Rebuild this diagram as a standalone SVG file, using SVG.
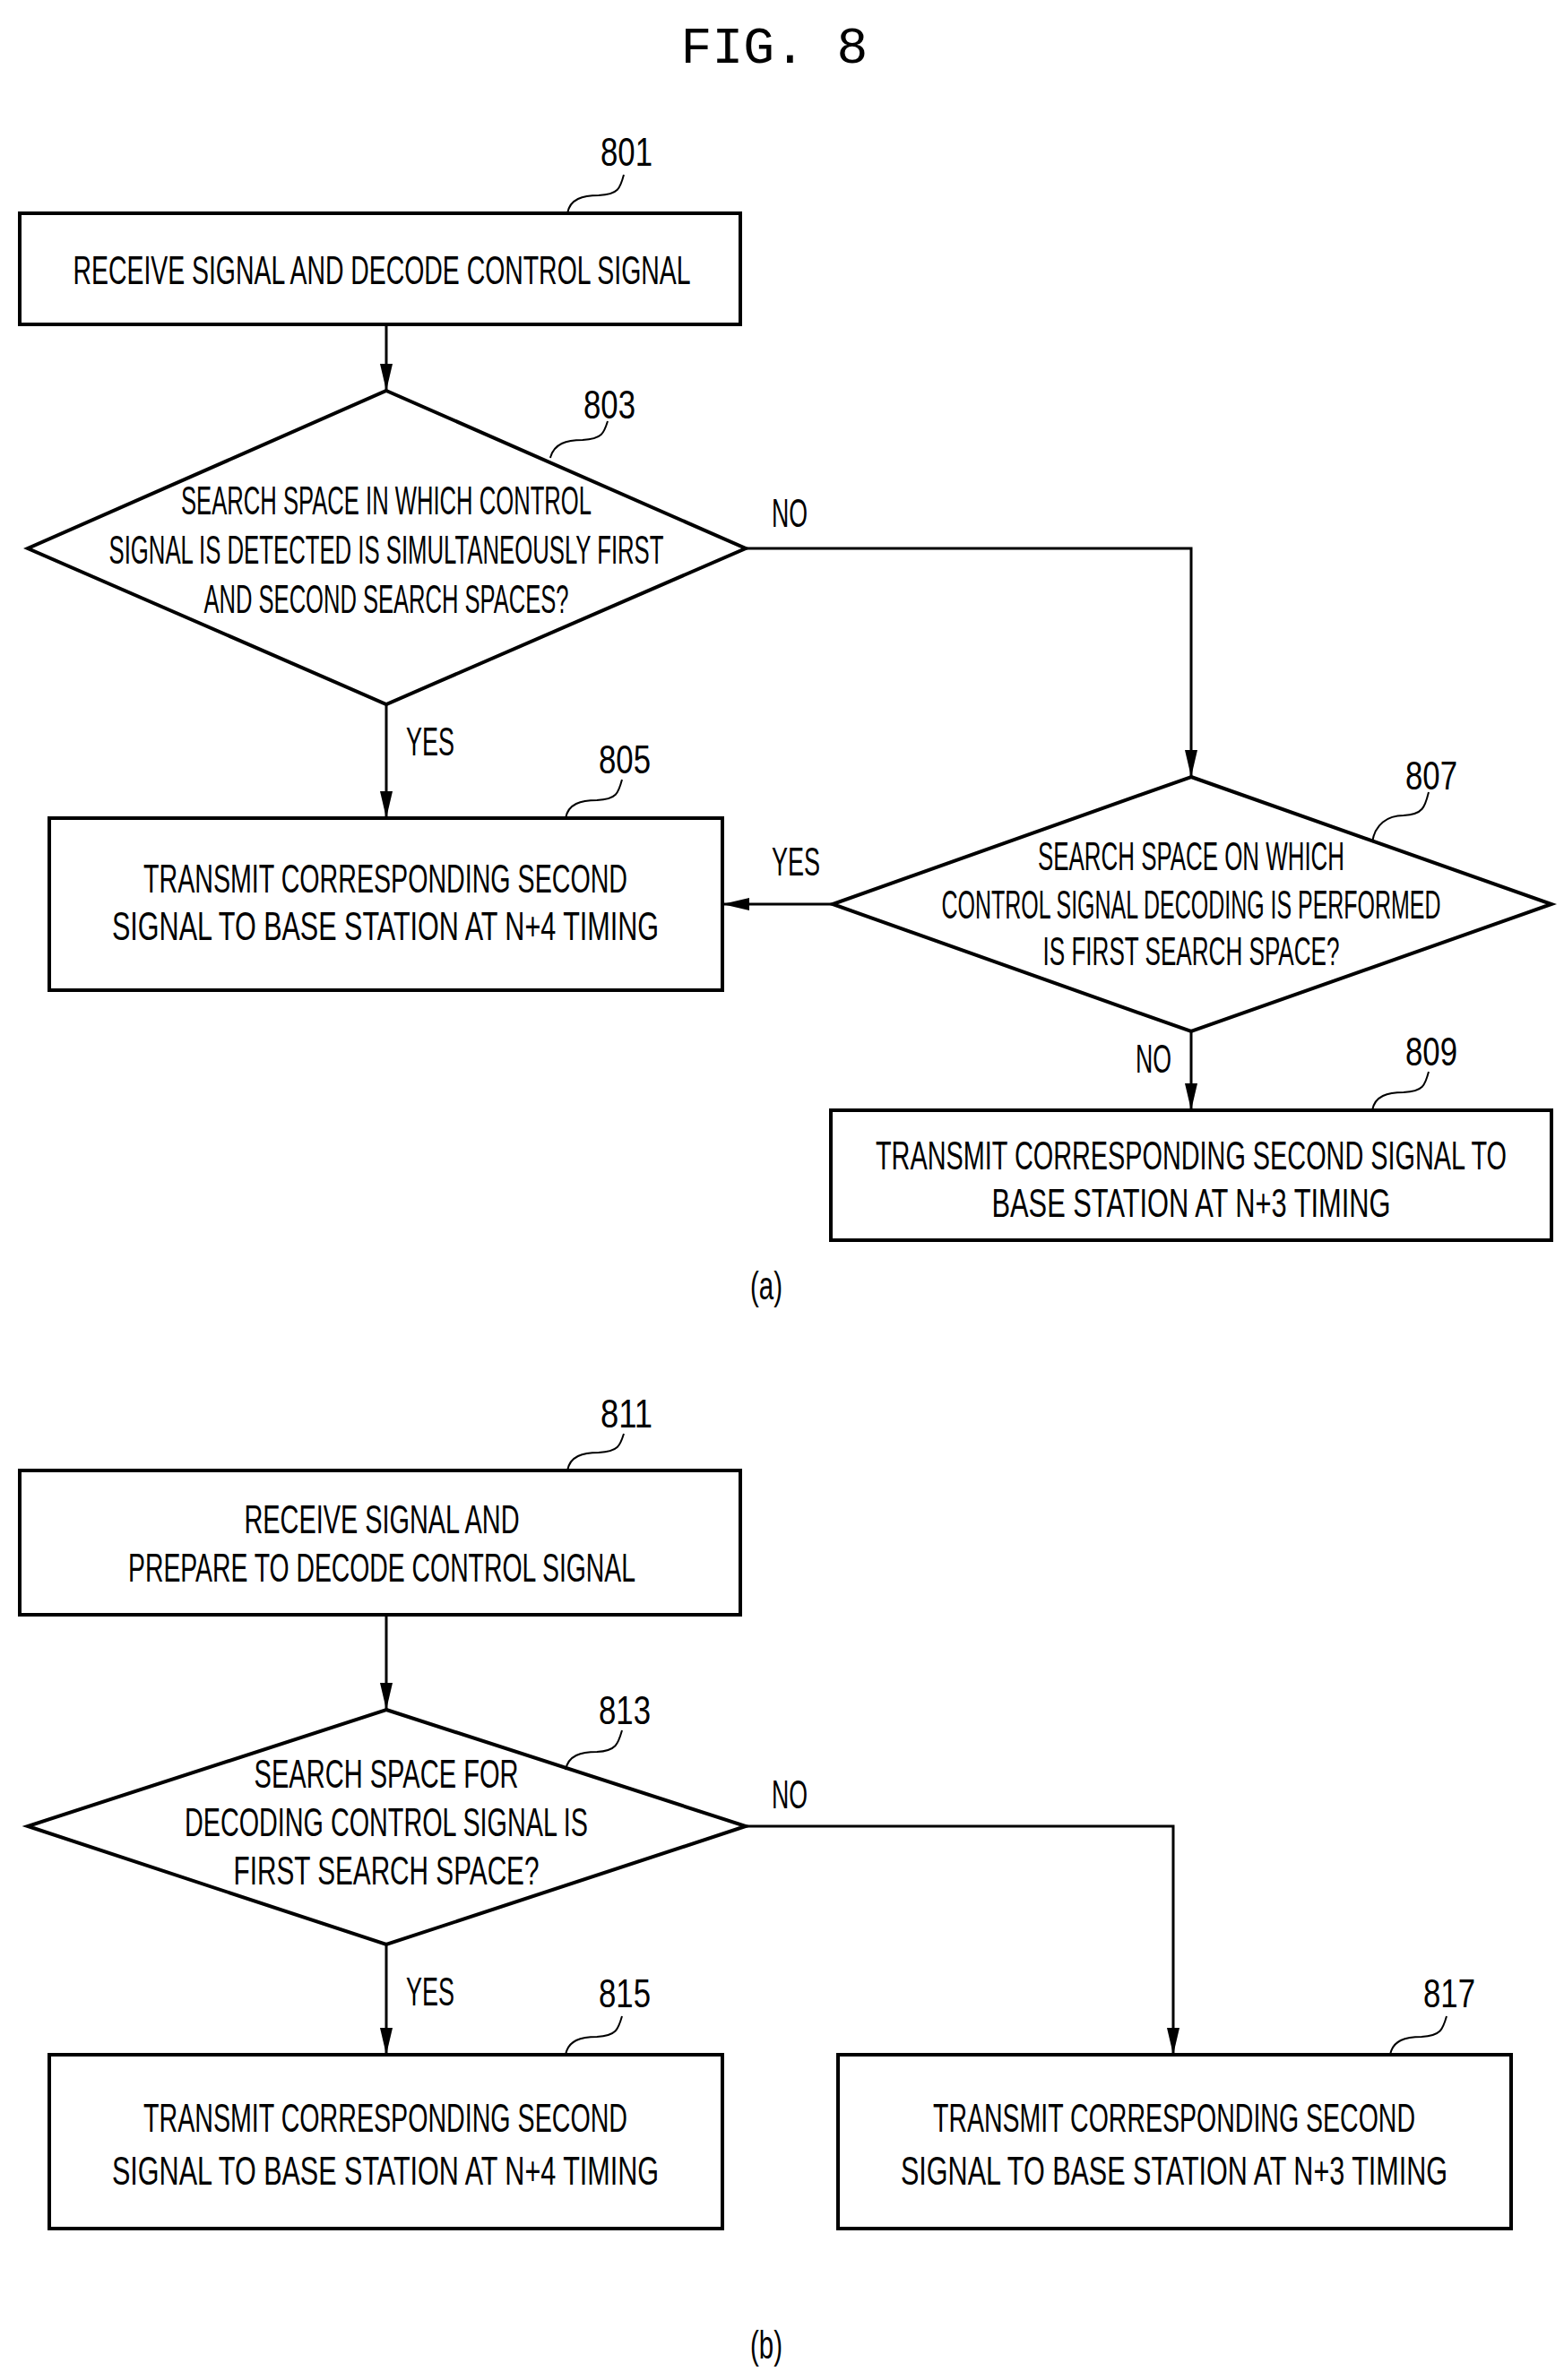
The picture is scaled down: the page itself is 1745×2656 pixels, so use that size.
<svg xmlns="http://www.w3.org/2000/svg" width="1745" height="2656" viewBox="0 0 1745 2656">
<style>
.b{fill:#fff;stroke:#000;stroke-width:4}
.t{font-family:"Liberation Sans",Arial,sans-serif;font-size:44px;text-anchor:middle;fill:#000}
.l{font-family:"Liberation Sans",Arial,sans-serif;font-size:44px;text-anchor:middle;fill:#000}
.c{fill:none;stroke:#000;stroke-width:3}
.s{fill:none;stroke:#000;stroke-width:2}
</style>
<defs><marker id="a" viewBox="0 0 10 30" refX="10" refY="15" markerWidth="10" markerHeight="30" markerUnits="userSpaceOnUse" orient="auto"><path d="M0,0 L30,15 L0,30 Z" transform="scale(0.333,1)"/></marker>
<marker id="h" viewBox="0 0 30 14" refX="30" refY="7" markerWidth="30" markerHeight="14" markerUnits="userSpaceOnUse" orient="auto"><path d="M0,0 L30,7 L0,14 Z"/></marker></defs>
<rect width="1745" height="2656" fill="#fff"/>
<text x="864" y="70" style="font-family:'Liberation Mono',monospace;font-size:58px;text-anchor:middle">FIG. 8</text>
<g id="connectors">
<path class="c" d="M431,362 V436" marker-end="url(#h)"/>
<path class="c" d="M832,612 H1329 V867" marker-end="url(#h)"/>
<path class="c" d="M431,786 V913" marker-end="url(#h)"/>
<path class="c" d="M929,1009 H806" marker-end="url(#h)"/>
<path class="c" d="M1329,1151 V1239" marker-end="url(#h)"/>
<path class="c" d="M431,1802 V1908" marker-end="url(#h)"/>
<path class="c" d="M832,2038 H1309 V2293" marker-end="url(#h)"/>
<path class="c" d="M431,2170 V2293" marker-end="url(#h)"/>
<text class="l" x="881" y="588" textLength="40" lengthAdjust="spacingAndGlyphs">NO</text>
<text class="l" x="480" y="843" textLength="54" lengthAdjust="spacingAndGlyphs">YES</text>
<text class="l" x="888" y="977" textLength="54" lengthAdjust="spacingAndGlyphs">YES</text>
<text class="l" x="1287" y="1197" textLength="40" lengthAdjust="spacingAndGlyphs">NO</text>
<text class="l" x="881" y="2018" textLength="40" lengthAdjust="spacingAndGlyphs">NO</text>
<text class="l" x="480" y="2238" textLength="54" lengthAdjust="spacingAndGlyphs">YES</text>
</g>
<g id="n801"><rect class="b" x="22" y="238" width="804" height="124"/>
<text class="t" x="426" y="317" textLength="689" lengthAdjust="spacingAndGlyphs">RECEIVE SIGNAL AND DECODE CONTROL SIGNAL</text>
<text class="l" x="699" y="185" textLength="58" lengthAdjust="spacingAndGlyphs">801</text><path class="s" d="M633,238 C636,222 650,218 668,218 C690,217 692,210 696,195"/></g>
<g id="n803"><polygon class="b" points="431,436 832,612 431,786 31,612"/>
<text class="t" x="431" y="574" textLength="458" lengthAdjust="spacingAndGlyphs">SEARCH SPACE IN WHICH CONTROL</text>
<text class="t" x="431" y="629" textLength="619" lengthAdjust="spacingAndGlyphs">SIGNAL IS DETECTED IS SIMULTANEOUSLY FIRST</text>
<text class="t" x="431" y="684" textLength="407" lengthAdjust="spacingAndGlyphs">AND SECOND SEARCH SPACES?</text>
<text class="l" x="680" y="467" textLength="58" lengthAdjust="spacingAndGlyphs">803</text><path class="s" d="M614,511 C618,495 632,491 650,491 C672,490 674,483 678,470"/></g>
<g id="n805"><rect class="b" x="55" y="913" width="751" height="192"/>
<text class="t" x="430" y="996" textLength="540" lengthAdjust="spacingAndGlyphs">TRANSMIT CORRESPONDING SECOND</text>
<text class="t" x="430" y="1049" textLength="610" lengthAdjust="spacingAndGlyphs">SIGNAL TO BASE STATION AT N+4 TIMING</text>
<text class="l" x="697" y="863" textLength="58" lengthAdjust="spacingAndGlyphs">805</text><path class="s" d="M631,913 C634,897 648,893 666,893 C688,892 690,885 694,870"/></g>
<g id="n807"><polygon class="b" points="1329,867 1731,1009 1329,1151 929,1009"/>
<text class="t" x="1329" y="971" textLength="342" lengthAdjust="spacingAndGlyphs">SEARCH SPACE ON WHICH</text>
<text class="t" x="1329" y="1025" textLength="557" lengthAdjust="spacingAndGlyphs">CONTROL SIGNAL DECODING IS PERFORMED</text>
<text class="t" x="1329" y="1077" textLength="331" lengthAdjust="spacingAndGlyphs">IS FIRST SEARCH SPACE?</text>
<text class="l" x="1597" y="881" textLength="58" lengthAdjust="spacingAndGlyphs">807</text><path class="s" d="M1531,940 C1534,920 1548,910 1566,910 C1588,909 1590,900 1594,884"/></g>
<g id="n809"><rect class="b" x="927" y="1239" width="804" height="145"/>
<text class="t" x="1329" y="1305" textLength="704" lengthAdjust="spacingAndGlyphs">TRANSMIT CORRESPONDING SECOND SIGNAL TO</text>
<text class="t" x="1329" y="1358" textLength="445" lengthAdjust="spacingAndGlyphs">BASE STATION AT N+3 TIMING</text>
<text class="l" x="1597" y="1189" textLength="58" lengthAdjust="spacingAndGlyphs">809</text><path class="s" d="M1531,1239 C1534,1223 1548,1219 1566,1219 C1588,1218 1590,1211 1594,1196"/></g>
<text class="l" x="855" y="1450" textLength="36" lengthAdjust="spacingAndGlyphs">(a)</text>
<g id="n811"><rect class="b" x="22" y="1641" width="804" height="161"/>
<text class="t" x="426" y="1711" textLength="307" lengthAdjust="spacingAndGlyphs">RECEIVE SIGNAL AND</text>
<text class="t" x="426" y="1765" textLength="566" lengthAdjust="spacingAndGlyphs">PREPARE TO DECODE CONTROL SIGNAL</text>
<text class="l" x="699" y="1593" textLength="58" lengthAdjust="spacingAndGlyphs">811</text><path class="s" d="M633,1641 C636,1625 650,1621 668,1621 C690,1620 692,1613 696,1600"/></g>
<g id="n813"><polygon class="b" points="431,1908 832,2038 431,2170 31,2038"/>
<text class="t" x="431" y="1995" textLength="295" lengthAdjust="spacingAndGlyphs">SEARCH SPACE FOR</text>
<text class="t" x="431" y="2049" textLength="450" lengthAdjust="spacingAndGlyphs">DECODING CONTROL SIGNAL IS</text>
<text class="t" x="431" y="2103" textLength="341" lengthAdjust="spacingAndGlyphs">FIRST SEARCH SPACE?</text>
<text class="l" x="697" y="1924" textLength="58" lengthAdjust="spacingAndGlyphs">813</text><path class="s" d="M631,1975 C634,1959 648,1955 666,1955 C688,1954 690,1945 694,1931"/></g>
<g id="n815"><rect class="b" x="55" y="2293" width="751" height="194"/>
<text class="t" x="430" y="2379" textLength="540" lengthAdjust="spacingAndGlyphs">TRANSMIT CORRESPONDING SECOND</text>
<text class="t" x="430" y="2438" textLength="610" lengthAdjust="spacingAndGlyphs">SIGNAL TO BASE STATION AT N+4 TIMING</text>
<text class="l" x="697" y="2240" textLength="58" lengthAdjust="spacingAndGlyphs">815</text><path class="s" d="M631,2293 C634,2277 648,2273 666,2273 C688,2272 690,2264 694,2250"/></g>
<g id="n817"><rect class="b" x="935" y="2293" width="751" height="194"/>
<text class="t" x="1310" y="2379" textLength="538" lengthAdjust="spacingAndGlyphs">TRANSMIT CORRESPONDING SECOND</text>
<text class="t" x="1310" y="2438" textLength="610" lengthAdjust="spacingAndGlyphs">SIGNAL TO BASE STATION AT N+3 TIMING</text>
<text class="l" x="1617" y="2240" textLength="58" lengthAdjust="spacingAndGlyphs">817</text><path class="s" d="M1551,2293 C1554,2277 1568,2273 1586,2273 C1608,2272 1610,2264 1614,2250"/></g>
<text class="l" x="855" y="2632" textLength="36" lengthAdjust="spacingAndGlyphs">(b)</text>
</svg>
